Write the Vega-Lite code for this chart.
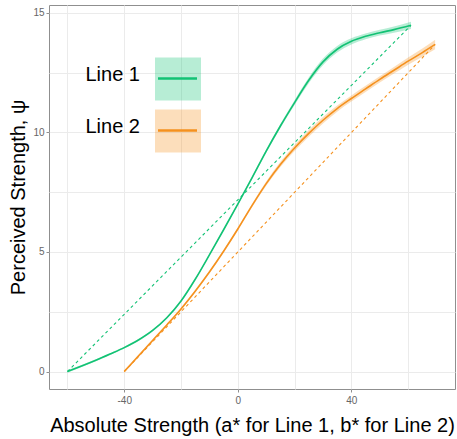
{
  "$schema": "https://vega.github.io/schema/vega-lite/v6.json",
  "width": 406,
  "height": 384,
  "autosize": {"type": "none"},
  "padding": {"left": 49, "top": 5, "right": 2, "bottom": 50},
  "background": "white",
  "config": {
    "view": {"stroke": "#8f8f8f", "strokeWidth": 1},
    "font": "Liberation Sans",
    "axis": {
      "domain": false,
      "gridColor": "#ebebeb",
      "gridWidth": 1,
      "tickColor": "#8f8f8f",
      "tickSize": 3,
      "labelColor": "#666666",
      "labelFontSize": 10,
      "labelFont": "Liberation Sans",
      "titleFont": "Liberation Sans",
      "titleFontSize": 20,
      "titleFontWeight": "normal",
      "titleColor": "black"
    }
  },
  "datasets": {
    "curves": [
      {"series": "Line 1", "x": -60, "y": 0, "lo": -0.05, "hi": 0.05},
      {"series": "Line 1", "x": -50, "y": 0.47, "lo": 0.43, "hi": 0.51},
      {"series": "Line 1", "x": -45, "y": 0.73, "lo": 0.69, "hi": 0.77},
      {"series": "Line 1", "x": -40, "y": 1.0, "lo": 0.96, "hi": 1.04},
      {"series": "Line 1", "x": -35, "y": 1.32, "lo": 1.28, "hi": 1.36},
      {"series": "Line 1", "x": -30, "y": 1.72, "lo": 1.68, "hi": 1.76},
      {"series": "Line 1", "x": -25, "y": 2.25, "lo": 2.21, "hi": 2.29},
      {"series": "Line 1", "x": -20, "y": 2.95, "lo": 2.91, "hi": 2.99},
      {"series": "Line 1", "x": -15, "y": 3.86, "lo": 3.82, "hi": 3.9},
      {"series": "Line 1", "x": -10, "y": 4.88, "lo": 4.84, "hi": 4.92},
      {"series": "Line 1", "x": -5, "y": 5.93, "lo": 5.89, "hi": 5.97},
      {"series": "Line 1", "x": 0, "y": 7.0, "lo": 6.95, "hi": 7.05},
      {"series": "Line 1", "x": 5, "y": 8.1, "lo": 8.04, "hi": 8.16},
      {"series": "Line 1", "x": 10, "y": 9.22, "lo": 9.15, "hi": 9.29},
      {"series": "Line 1", "x": 15, "y": 10.27, "lo": 10.19, "hi": 10.35},
      {"series": "Line 1", "x": 20, "y": 11.25, "lo": 11.15, "hi": 11.35},
      {"series": "Line 1", "x": 25, "y": 12.18, "lo": 12.06, "hi": 12.3},
      {"series": "Line 1", "x": 30, "y": 12.95, "lo": 12.81, "hi": 13.09},
      {"series": "Line 1", "x": 35, "y": 13.48, "lo": 13.34, "hi": 13.62},
      {"series": "Line 1", "x": 40, "y": 13.81, "lo": 13.68, "hi": 13.94},
      {"series": "Line 1", "x": 45, "y": 14.02, "lo": 13.9, "hi": 14.14},
      {"series": "Line 1", "x": 50, "y": 14.17, "lo": 14.05, "hi": 14.29},
      {"series": "Line 1", "x": 55, "y": 14.3, "lo": 14.17, "hi": 14.43},
      {"series": "Line 1", "x": 61, "y": 14.48, "lo": 14.33, "hi": 14.63},
      {"series": "Line 2", "x": -40, "y": 0, "lo": -0.05, "hi": 0.05},
      {"series": "Line 2", "x": -35, "y": 0.65, "lo": 0.6, "hi": 0.7},
      {"series": "Line 2", "x": -30, "y": 1.3, "lo": 1.25, "hi": 1.35},
      {"series": "Line 2", "x": -25, "y": 1.95, "lo": 1.9, "hi": 2.0},
      {"series": "Line 2", "x": -20, "y": 2.62, "lo": 2.57, "hi": 2.67},
      {"series": "Line 2", "x": -15, "y": 3.36, "lo": 3.31, "hi": 3.41},
      {"series": "Line 2", "x": -10, "y": 4.16, "lo": 4.11, "hi": 4.21},
      {"series": "Line 2", "x": -5, "y": 5.03, "lo": 4.98, "hi": 5.08},
      {"series": "Line 2", "x": 0, "y": 5.96, "lo": 5.9, "hi": 6.02},
      {"series": "Line 2", "x": 5, "y": 6.94, "lo": 6.87, "hi": 7.01},
      {"series": "Line 2", "x": 10, "y": 7.86, "lo": 7.77, "hi": 7.95},
      {"series": "Line 2", "x": 15, "y": 8.66, "lo": 8.55, "hi": 8.77},
      {"series": "Line 2", "x": 20, "y": 9.35, "lo": 9.22, "hi": 9.48},
      {"series": "Line 2", "x": 25, "y": 9.96, "lo": 9.82, "hi": 10.1},
      {"series": "Line 2", "x": 30, "y": 10.51, "lo": 10.37, "hi": 10.65},
      {"series": "Line 2", "x": 35, "y": 11.0, "lo": 10.87, "hi": 11.13},
      {"series": "Line 2", "x": 40, "y": 11.42, "lo": 11.29, "hi": 11.55},
      {"series": "Line 2", "x": 45, "y": 11.82, "lo": 11.69, "hi": 11.95},
      {"series": "Line 2", "x": 50, "y": 12.22, "lo": 12.09, "hi": 12.35},
      {"series": "Line 2", "x": 55, "y": 12.6, "lo": 12.46, "hi": 12.74},
      {"series": "Line 2", "x": 60, "y": 12.98, "lo": 12.83, "hi": 13.13},
      {"series": "Line 2", "x": 65, "y": 13.34, "lo": 13.17, "hi": 13.51},
      {"series": "Line 2", "x": 69.5, "y": 13.68, "lo": 13.48, "hi": 13.88}
    ],
    "chords": [
      {"series": "Line 1", "x": -60, "y": 0},
      {"series": "Line 1", "x": 61, "y": 14.48},
      {"series": "Line 2", "x": -40, "y": 0},
      {"series": "Line 2", "x": 69.5, "y": 13.68}
    ]
  },
  "layer": [
    {
      "data": {"name": "curves"},
      "mark": {"type": "area", "interpolate": "monotone", "opacity": 0.3},
      "encoding": {
        "x": {
          "field": "x", "type": "quantitative",
          "scale": {"domain": [-66.5, 76.5], "nice": false, "zero": false},
          "axis": {
            "title": "Absolute Strength (a* for Line 1, b* for Line 2)",
            "values": [-60, -40, -20, 0, 20, 40, 60],
            "labelExpr": "datum.value % 40 == 0 ? '' + datum.value : ''",
            "tickOpacity": {"condition": {"test": "datum.value % 40 == 0", "value": 1}, "value": 0},
            "labelPadding": 3,
            "titlePadding": 10,
            "labelOverlap": false,
            "labelFlush": false
          }
        },
        "y": {
          "field": "lo", "type": "quantitative",
          "scale": {"domain": [-0.73, 15.33], "nice": false, "zero": false},
          "axis": {
            "title": "Perceived Strength, ψ",
            "values": [0, 2.5, 5, 7.5, 10, 12.5, 15],
            "labelExpr": "datum.value % 5 == 0 ? '' + datum.value : ''",
            "tickOpacity": {"condition": {"test": "datum.value % 5 == 0", "value": 1}, "value": 0},
            "labelPadding": 2,
            "titlePadding": 4,
            "labelOverlap": false
          }
        },
        "y2": {"field": "hi"},
        "fill": {
          "field": "series", "type": "nominal",
          "scale": {"domain": ["Line 1", "Line 2"], "range": ["#12C274", "#F5911E"]},
          "legend": {
            "orient": "none",
            "legendX": 106,
            "legendY": 51,
            "title": null,
            "padding": 0,
            "symbolType": "M-1,-0.935H1V0.935H-1Z",
            "symbolSize": 2116,
            "symbolStrokeWidth": 0,
            "symbolOpacity": 0.3,
            "rowPadding": 7,
            "labelAlign": "right",
            "labelBaseline": "middle",
            "labelOffset": -61,
            "labelFontSize": 20,
            "labelColor": "black",
            "labelFont": "Liberation Sans",
            "labelLimit": 200,
            "encode": {"labels": {"update": {"dy": {"value": -4}}}}
          }
        }
      }
    },
    {
      "data": {"name": "curves"},
      "mark": {"type": "line", "interpolate": "monotone", "strokeWidth": 1.6},
      "encoding": {
        "x": {"field": "x", "type": "quantitative"},
        "y": {"field": "y", "type": "quantitative", "axis": {"title": "Perceived Strength, ψ"}},
        "stroke": {
          "field": "series", "type": "nominal",
          "scale": {"range": ["#12C274", "#F5911E"]},
          "legend": {
            "orient": "none",
            "legendX": 106,
            "legendY": 52,
            "title": null,
            "padding": 0,
            "symbolType": "stroke",
            "symbolSize": 1521,
            "symbolStrokeWidth": 2.5,
            "symbolOffset": 1.5,
            "clipHeight": 43,
            "rowPadding": 9,
            "labelOpacity": 0,
            "labelFontSize": 20
          }
        }
      }
    },
    {
      "data": {"name": "chords"},
      "mark": {"type": "line", "strokeDash": [3, 3], "strokeWidth": 1.1},
      "encoding": {
        "x": {"field": "x", "type": "quantitative"},
        "y": {"field": "y", "type": "quantitative", "axis": {"title": "Perceived Strength, ψ"}},
        "stroke": {"field": "series", "type": "nominal", "legend": null}
      }
    }
  ]
}
